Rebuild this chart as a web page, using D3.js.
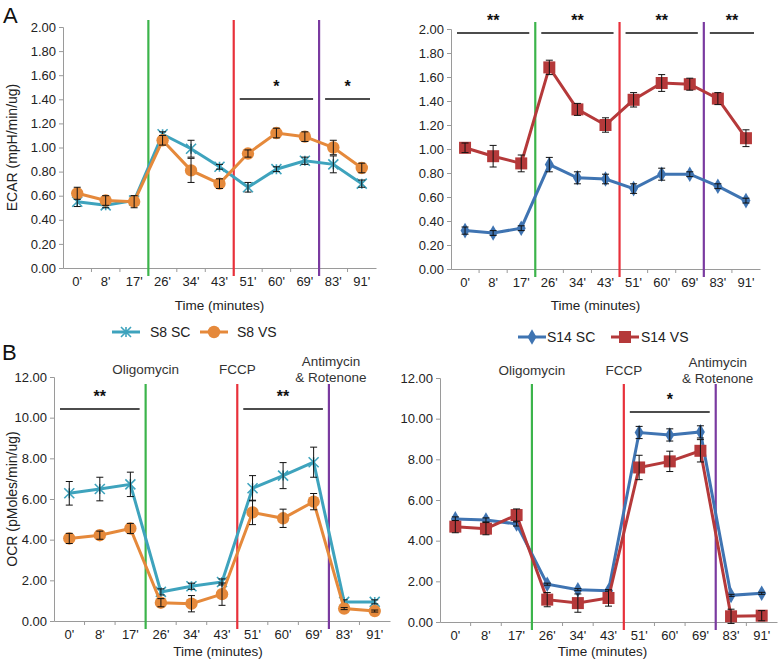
<!DOCTYPE html>
<html><head><meta charset="utf-8">
<script src="https://cdn.jsdelivr.net/npm/d3@7"></script>
<style>body{margin:0;background:#fff}svg{display:block;font-family:"Liberation Sans",Arial,sans-serif}</style>
</head><body><svg id="c" width="778" height="661"></svg>
<script>
const categories = ["0'","8'","17'","26'","34'","43'","51'","60'","69'","83'","91'"];
const ecarTicks = [0,0.2,0.4,0.6,0.8,1.0,1.2,1.4,1.6,1.8,2.0];
const ocrTicks = [0,2,4,6,8,10,12];

const ecarS8SC = [0.55,0.52,0.56,1.11,0.99,0.84,0.67,0.82,0.89,0.86,0.70];
const ecarS8SCErr = [0.04,0.02,0.04,0.02,0.07,0.02,0.04,0.02,0.03,0.07,0.03];
const ecarS8VS = [0.62,0.56,0.55,1.06,0.81,0.70,0.95,1.12,1.09,1.00,0.83];
const ecarS8VSErr = [0.05,0.04,0.05,0.04,0.10,0.04,0.03,0.04,0.04,0.06,0.04];

const ecarS14SC = [0.32,0.30,0.34,0.87,0.76,0.75,0.67,0.79,0.79,0.69,0.57];
const ecarS14SCErr = [0.03,0.02,0.02,0.06,0.05,0.04,0.04,0.05,0.02,0.02,0.02];
const ecarS14VS = [1.01,0.94,0.88,1.68,1.33,1.20,1.41,1.55,1.54,1.42,1.09];
const ecarS14VSErr = [0.04,0.09,0.07,0.06,0.05,0.06,0.06,0.07,0.05,0.05,0.07];

const ocrS8SC = [6.28,6.49,6.72,1.43,1.71,1.92,6.53,7.15,7.81,0.94,0.94];
const ocrS8SCErr = [0.58,0.58,0.60,0.15,0.15,0.15,0.62,0.64,0.74,0.10,0.10];
const ocrS8VS = [4.06,4.22,4.55,0.90,0.85,1.32,5.34,5.05,5.87,0.61,0.49];
const ocrS8VSErr = [0.25,0.20,0.25,0.20,0.40,0.55,0.60,0.45,0.40,0.05,0.05];

const ocrS14SC = [5.07,5.02,4.82,1.86,1.59,1.54,9.32,9.20,9.35,1.31,1.41];
const ocrS14SCErr = [0.10,0.10,0.10,0.05,0.05,0.05,0.30,0.30,0.30,0.05,0.05];
const ocrS14VS = [4.69,4.59,5.26,1.10,0.93,1.18,7.60,7.90,8.42,0.28,0.31];
const ocrS14VSErr = [0.30,0.30,0.30,0.35,0.45,0.40,0.60,0.50,0.55,0.35,0.25];

const injections = ["Oligomycin","FCCP","Antimycin\n& Rotenone"];
const injectionAfter = [3,6,9];
const injectionColors = ["#3cb44b","#e8303a","#7a3aa0"];

const sigA8 = [{from:6,to:9,label:"*"},{from:9,to:11,label:"*"}];
const sigA14 = [{from:0,to:3,label:"**"},{from:3,to:6,label:"**"},{from:6,to:9,label:"**"},{from:9,to:11,label:"**"}];
const sigB8 = [{from:0,to:3,label:"**"},{from:6,to:9,label:"**"}];
const sigB14 = [{from:6,to:9,label:"*"}];

const svg = d3.select("#c");
const AX = "#9a9a9a";

function marker(g, type, color, x, y) {
  if (type === "circle") {
    g.append("circle").attr("cx",x).attr("cy",y).attr("r",6.2).attr("fill",color);
  } else if (type === "square") {
    g.append("rect").attr("x",x-6).attr("y",y-6).attr("width",12).attr("height",12).attr("fill",color);
  } else if (type === "diamond") {
    g.append("path").attr("d",d3.symbol(d3.symbolDiamond,70)()).attr("transform",`translate(${x},${y})`).attr("fill",color);
  } else if (type === "star") {
    const s = 5;
    g.append("path").attr("d",`M${x-s},${y-s}L${x+s},${y+s}M${x-s},${y+s}L${x+s},${y-s}M${x},${y-s}L${x},${y+s}`)
      .attr("stroke",color).attr("stroke-width",1.6).attr("fill","none");
  }
}

function panel(cfg) {
  const x = d3.scaleBand().domain(categories).range(cfg.xr).padding(0);
  const y = d3.scaleLinear().domain([0, cfg.ymax]).range(cfg.yr);
  const g = svg.append("g");
  const ya = g.append("g").attr("transform",`translate(${cfg.xr[0]},0)`)
    .call(d3.axisLeft(y).tickValues(cfg.ticks).tickFormat(d3.format(".2f")).tickSize(4).tickPadding(3));
  ya.select(".domain").attr("stroke",AX);
  ya.selectAll(".tick line").attr("stroke",AX);
  ya.selectAll("text").attr("fill","#222").style("font-size","13px").style("font-family","Liberation Sans, Arial, sans-serif");
  const xa = g.append("g").attr("transform",`translate(0,${cfg.yr[0]})`)
    .call(d3.axisBottom(x).tickSize(0).tickPadding(9));
  xa.select(".domain").attr("stroke",AX);
  xa.selectAll("text").attr("fill","#222").style("font-size","13px").style("font-family","Liberation Sans, Arial, sans-serif");
  const bounds = d3.range(1, categories.length).map(i => cfg.xr[0] + i * x.step());
  xa.selectAll(".bt").data(bounds).enter().append("line")
    .attr("x1",d=>d).attr("x2",d=>d).attr("y1",0).attr("y2",4).attr("stroke",AX);
  injectionAfter.forEach((k,i) => {
    const xx = cfg.xr[0] + k * x.step();
    g.append("line").attr("x1",xx).attr("x2",xx).attr("y1",cfg.vtop).attr("y2",cfg.yr[0]+8)
      .attr("stroke",injectionColors[i]).attr("stroke-width",2.2);
    if (cfg.injLabels) {
      const lines = injections[i].split("\n");
      const t = g.append("text").attr("x",xx).attr("text-anchor","middle")
        .attr("fill","#333").style("font-size","13.5px");
      if (lines.length === 1) t.attr("y",cfg.labY).text(lines[0]);
      else lines.forEach((ln,j)=>t.append("tspan").attr("x",xx+2).attr("y",cfg.labY-8+j*16).text(ln));
    }
  });
  cfg.sig.forEach(s => {
    const x1 = cfg.xr[0] + s.from * x.step() + 6, x2 = cfg.xr[0] + s.to * x.step() - 6;
    g.append("line").attr("x1",x1).attr("x2",x2).attr("y1",cfg.sigY).attr("y2",cfg.sigY)
      .attr("stroke","#111").attr("stroke-width",1.5);
    g.append("text").attr("x",(x1+x2)/2).attr("y",cfg.sigY-7).attr("text-anchor","middle")
      .style("font-size","16px").style("font-weight","bold").attr("fill","#111").text(s.label);
  });
  cfg.series.forEach(s => {
    const pts = s.values.map((v,i)=>[x(categories[i]) + x.bandwidth()/2, y(v)]);
    g.append("path").attr("d",d3.line()(pts)).attr("fill","none").attr("stroke",s.color).attr("stroke-width",3);
    pts.forEach((p,i)=>marker(g, s.marker, s.color, p[0], p[1]));
    pts.forEach((p,i)=>{
      const e = s.err[i];
      const y1 = y(s.values[i]+e), y2 = y(s.values[i]-e);
      g.append("line").attr("x1",p[0]).attr("x2",p[0]).attr("y1",y1).attr("y2",y2).attr("stroke","#111").attr("stroke-width",1);
      [y1,y2].forEach(yy=>g.append("line").attr("x1",p[0]-3.5).attr("x2",p[0]+3.5).attr("y1",yy).attr("y2",yy).attr("stroke","#111").attr("stroke-width",1));
    });
  });
  if (cfg.ylabel) {
    const cy = (cfg.yr[0]+cfg.yr[1])/2;
    g.append("text").attr("transform",`translate(${cfg.ylabX},${cy}) rotate(-90)`).attr("text-anchor","middle")
      .attr("fill","#222").style("font-size","14px").text(cfg.ylabel);
  }
  g.append("text").attr("x",(cfg.xr[0]+cfg.xr[1])/2 + cfg.titleDx).attr("y",cfg.titleY).attr("text-anchor","middle")
    .attr("fill","#222").style("font-size","13.5px").text("Time (minutes)");
}

const C8SC = "#3ea3bd", C8VS = "#e5893b", C14SC = "#3f74b2", C14VS = "#b5393a";

panel({xr:[63,376], yr:[268,27], ymax:2, ticks:ecarTicks, vtop:20, sig:sigA8, sigY:99,
  series:[{values:ecarS8SC, err:ecarS8SCErr, color:C8SC, marker:"star"},{values:ecarS8VS, err:ecarS8VSErr, color:C8VS, marker:"circle"}],
  ylabel:"ECAR (mpH/min/ug)", ylabX:17, titleY:310, titleDx:0});
panel({xr:[451,760], yr:[269,29], ymax:2, ticks:ecarTicks, vtop:22, sig:sigA14, sigY:33,
  series:[{values:ecarS14SC, err:ecarS14SCErr, color:C14SC, marker:"diamond"},{values:ecarS14VS, err:ecarS14VSErr, color:C14VS, marker:"square"}],
  titleY:310, titleDx:-10});
panel({xr:[54,390], yr:[621,377], ymax:12, ticks:ocrTicks, vtop:384, sig:sigB8, sigY:409, injLabels:true, labY:374,
  series:[{values:ocrS8SC, err:ocrS8SCErr, color:C8SC, marker:"star"},{values:ocrS8VS, err:ocrS8VSErr, color:C8VS, marker:"circle"}],
  ylabel:"OCR (pMoles/min/ug)", ylabX:17, titleY:656, titleDx:-4});
panel({xr:[440,777], yr:[622,378], ymax:12, ticks:ocrTicks, vtop:384, sig:sigB14, sigY:412, injLabels:true, labY:375,
  series:[{values:ocrS14SC, err:ocrS14SCErr, color:C14SC, marker:"diamond"},{values:ocrS14VS, err:ocrS14VSErr, color:C14VS, marker:"square"}],
  titleY:656, titleDx:-6});

function legend(items, y) {
  items.forEach(it => {
    const g = svg.append("g");
    g.append("line").attr("x1",it.x).attr("x2",it.x+28).attr("y1",y).attr("y2",y).attr("stroke",it.color).attr("stroke-width",3);
    marker(g, it.marker, it.color, it.x+14, y);
    g.append("text").attr("x",it.tx).attr("y",y+5).attr("fill","#222").style("font-size","14px").text(it.label);
  });
}
legend([{x:112,tx:150,color:C8SC,marker:"star",label:"S8 SC"},{x:200,tx:237,color:C8VS,marker:"circle",label:"S8 VS"}],332);
legend([{x:518,tx:547,color:C14SC,marker:"diamond",label:"S14 SC"},{x:611,tx:641,color:C14VS,marker:"square",label:"S14 VS"}],337);

svg.append("text").attr("x",3).attr("y",23).style("font-size","22px").attr("fill","#111").text("A");
svg.append("text").attr("x",2).attr("y",360).style("font-size","22px").attr("fill","#111").text("B");
</script></body></html>
